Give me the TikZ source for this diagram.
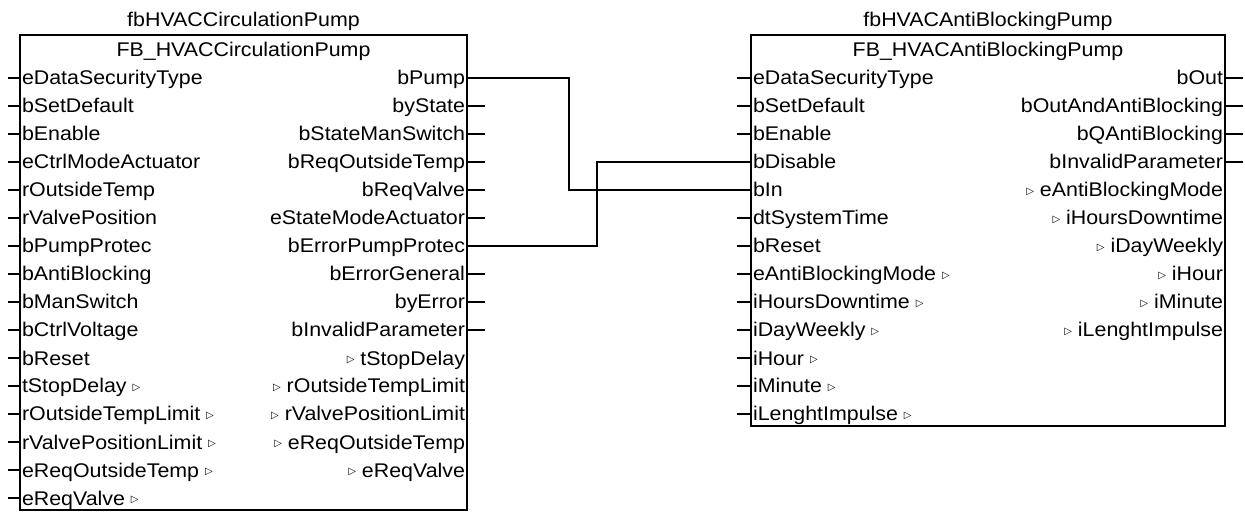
\documentclass[tikz,border=0pt]{standalone}
\usepackage{fontspec}
\setmainfont{Liberation Sans}[FakeStretch=1.08]
\newfontfamily\symfont{DejaVu Sans}
\newcommand{\tri}{\raisebox{1.2pt}{\symfont\fontsize{5}{6}\selectfont ▷}}
\usetikzlibrary{fit}
\begin{document}
\begin{tikzpicture}[x=0.5pt,y=-0.5pt,
  lbl/.style={font=\fontsize{9.9}{11}\selectfont, inner sep=0pt, outer sep=0pt},
  inl/.style={lbl,anchor=base west},
  outl/.style={lbl,anchor=base east},
  ttl/.style={lbl,anchor=base},
  wire/.style={line width=1pt},
  fbbox/.style={draw,line width=1pt,inner sep=0pt}]
\useasboundingbox (0,0) rectangle (1245,512);
% ---------- left block ----------
\coordinate (A1) at (20,35);
\coordinate (A2) at (467,510);
\node[fbbox,fit=(A1)(A2)] (fbA) {};
\node[ttl] (fbAname) at (243.5,27) {fbHVACCirculationPump};
\node[ttl] (fbAtype) at (243.5,57) {FB\_HVACCirculationPump};
\foreach \t [count=\i] in {eDataSecurityType,bSetDefault,bEnable,eCtrlModeActuator,rOutsideTemp,rValvePosition,bPumpProtec,bAntiBlocking,bManSwitch,bCtrlVoltage,bReset,tStopDelay \tri,rOutsideTempLimit \tri,rValvePositionLimit \tri,eReqOutsideTemp \tri,eReqValve \tri}{
  \coordinate (aip\i) at (20,{78+28*(\i-1)});
  \coordinate (aie\i) at (8,{78+28*(\i-1)});
  \node[inl] (ai\i) at (22,{85+28*(\i-1)}) {\t};
  \draw[wire] (aie\i) -- (aip\i);
}
\foreach \t [count=\i] in {bPump,byState,bStateManSwitch,bReqOutsideTemp,bReqValve,eStateModeActuator,bErrorPumpProtec,bErrorGeneral,byError,bInvalidParameter,\tri\ tStopDelay,\tri\ rOutsideTempLimit,\tri\ rValvePositionLimit,\tri\ eReqOutsideTemp,\tri\ eReqValve}{
  \coordinate (aop\i) at (467,{78+28*(\i-1)});
  \coordinate (aoe\i) at (485,{78+28*(\i-1)});
  \node[outl] (ao\i) at (465,{85+28*(\i-1)}) {\t};
}
\foreach \i in {2,3,4,5,6,8,9,10}{\draw[wire] (aop\i) -- (aoe\i);}
% ---------- right block ----------
\coordinate (B1) at (751,35);
\coordinate (B2) at (1225,426);
\node[fbbox,fit=(B1)(B2)] (fbB) {};
\node[ttl] (fbBname) at (988,27) {fbHVACAntiBlockingPump};
\node[ttl] (fbBtype) at (988,57) {FB\_HVACAntiBlockingPump};
\foreach \t [count=\i] in {eDataSecurityType,bSetDefault,bEnable,bDisable,bIn,dtSystemTime,bReset,eAntiBlockingMode \tri,iHoursDowntime \tri,iDayWeekly \tri,iHour \tri,iMinute \tri,iLenghtImpulse \tri}{
  \coordinate (bip\i) at (751,{78+28*(\i-1)});
  \coordinate (bie\i) at (737,{78+28*(\i-1)});
  \node[inl] (bi\i) at (753,{85+28*(\i-1)}) {\t};
}
\foreach \i in {1,2,3,6,7,8,9,10,11,12,13}{\draw[wire] (bie\i) -- (bip\i);}
\foreach \t [count=\i] in {bOut,bOutAndAntiBlocking,bQAntiBlocking,bInvalidParameter,\tri\ eAntiBlockingMode,\tri\ iHoursDowntime,\tri\ iDayWeekly,\tri\ iHour,\tri\ iMinute,\tri\ iLenghtImpulse}{
  \coordinate (bop\i) at (1225,{78+28*(\i-1)});
  \coordinate (boe\i) at (1243,{78+28*(\i-1)});
  \node[outl] (bo\i) at (1223,{85+28*(\i-1)}) {\t};
}
\foreach \i in {1,2,3,4}{\draw[wire] (bop\i) -- (boe\i);}
% ---------- connections ----------
\coordinate (k1) at (569,0);
\coordinate (k2) at (597,0);
\draw[wire] (aop1) -- (aop1 -| k1) -- (bip5 -| k1) -- (bip5);
\draw[wire] (aop7) -- (aop7 -| k2) -- (bip4 -| k2) -- (bip4);
\end{tikzpicture}
\end{document}
